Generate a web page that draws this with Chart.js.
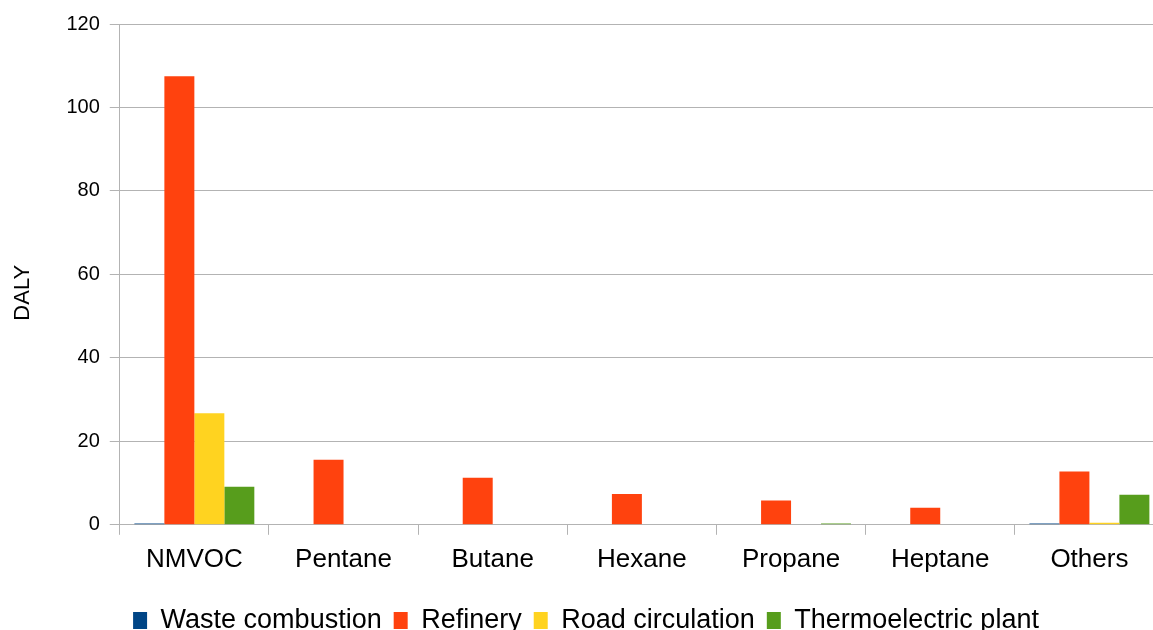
<!DOCTYPE html>
<html>
<head>
<meta charset="utf-8">
<script src="https://cdn.jsdelivr.net/npm/chart.js@4.4.1/dist/chart.umd.min.js"></script>
<style>
  html, body { margin: 0; padding: 0; overflow: hidden; background: #fff; }
  #wrap { position: absolute; left: 0; top: 0; width: 1172px; height: 644px; }
</style>
</head>
<body>
<div id="wrap"><canvas id="chart-area"></canvas></div>
<script>
var categories = ['NMVOC', 'Pentane', 'Butane', 'Hexane', 'Propane', 'Heptane', 'Others'];
var wasteCombustion = [0.3, 0, 0, 0, 0, 0, 0.3];
var refinery = [107.5, 15.6, 11.3, 7.4, 5.8, 4.1, 12.8];
var roadCirculation = [26.7, 0, 0, 0, 0, 0, 0.5];
var thermoelectric = [9.1, 0, 0, 0, 0.3, 0, 7.2];
var yTicks = [0, 20, 40, 60, 80, 100, 120];

var colors = {
  blue: '#004586',
  orange: '#ff420e',
  yellow: '#ffd320',
  green: '#579d1c'
};
var gridColor = '#b3b3b3';
var fontFamily = '"Liberation Sans", Arial, sans-serif';

function ds(label, data, color) {
  return {
    label: label,
    data: data,
    backgroundColor: color,
    borderWidth: 0,
    categoryPercentage: 0.804,
    barPercentage: 1.0
  };
}

var config = {
  type: 'bar',
  data: {
    labels: categories,
    datasets: [
      ds('Waste combustion', wasteCombustion, colors.blue),
      ds('Refinery', refinery, colors.orange),
      ds('Road circulation', roadCirculation, colors.yellow),
      ds('Thermoelectric plant', thermoelectric, colors.green)
    ]
  },
  options: {
    responsive: true,
    maintainAspectRatio: false,
    animation: false,
    layout: { padding: { left: 8, right: 8, top: 24, bottom: 0 } },
    plugins: {
      tooltip: { enabled: false },
      legend: {
        display: true,
        position: 'bottom',
        labels: {
          boxWidth: 14,
          boxHeight: 17,
          padding: 12,
          color: '#000',
          font: { family: fontFamily, size: 27 }
        }
      }
    },
    scales: {
      x: {
        grid: {
          offset: true,
          drawOnChartArea: false,
          drawTicks: true,
          tickLength: 10,
          color: gridColor
        },
        border: { display: true, color: gridColor },
        ticks: {
          color: '#000',
          padding: 9,
          font: { family: fontFamily, size: 26 }
        },
        afterFit: function (scale) {
          scale.height += 11;
        }
      },
      y: {
        min: 0,
        max: 120,
        afterBuildTicks: function (axis) {
          axis.ticks = yTicks.map(function (v) { return { value: v }; });
        },
        grid: {
          color: gridColor,
          tickLength: 10,
          drawTicks: true
        },
        border: { display: true, color: gridColor },
        ticks: {
          color: '#000',
          padding: 10,
          font: { family: fontFamily, size: 20 }
        },
        title: {
          display: true,
          text: 'DALY      ',
          color: '#000',
          padding: { top: 2, bottom: 20 },
          font: { family: fontFamily, size: 22 }
        }
      }
    }
  }
};

window.onload = function () {
  var ctx = document.getElementById('chart-area').getContext('2d');
  window.myBar = new Chart(ctx, config);
};
</script>
</body>
</html>
